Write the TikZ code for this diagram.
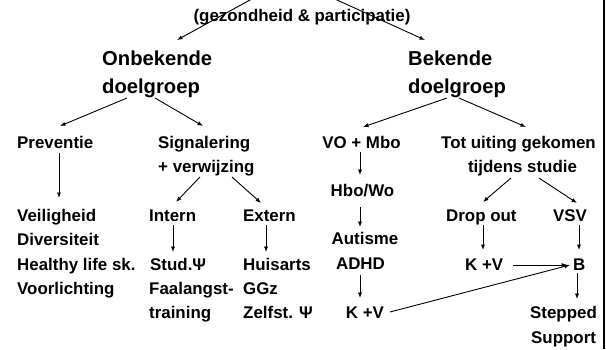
\documentclass[tikz,border=0pt]{standalone}
\usepackage{fontspec}
\setmainfont{Liberation Sans}
\usetikzlibrary{arrows.meta}
\begin{document}
\begin{tikzpicture}[x=1pt,y=-1pt,
  sm/.style={inner sep=0pt,anchor=base west,font=\fontsize{16.9}{20}\selectfont\bfseries},
  smc/.style={sm,anchor=base},
  lg/.style={inner sep=0pt,anchor=base west,font=\fontsize{20.2}{24}\selectfont\bfseries},
  arr/.style={draw=black,line width=0.9pt,-{Latex[length=5.5pt,width=4.2pt]}}]
\useasboundingbox (0,0) rectangle (606,349);
\fill[white] (0,0) rectangle (606,349);
% nodes
\node[smc] (top) at (302,21) {(gezondheid \& participatie)};
\node[lg] (onb1) at (102,65) {Onbekende};
\node[lg] (onb2) at (102,93) {doelgroep};
\node[lg] (bek1) at (408,65) {Bekende};
\node[lg] (bek2) at (408,93) {doelgroep};
\node[sm] (prev) at (17,148) {Preventie};
\node[sm] (sig1) at (158,148) {Signalering};
\node[sm] (sig2) at (158,172) {+ verwijzing};
\node[smc] (vo) at (361.5,148) {VO + Mbo};
\node[smc] (tot1) at (518.5,148) {Tot uiting gekomen};
\node[smc] (tot2) at (522.5,172) {tijdens studie};
\node[sm] (vei) at (17,221) {Veiligheid};
\node[sm] (div) at (17,245) {Diversiteit};
\node[sm] (hls) at (17,270) {Healthy life sk.};
\node[sm] (voo) at (17,294) {Voorlichting};
\node[sm] (int) at (149,221) {Intern};
\node[sm] (ext) at (243,221) {Extern};
\node[sm] (stud) at (150,270) {Stud.Ψ};
\node[sm] (faal) at (149,294) {Faalangst-};
\node[sm] (trai) at (149,318) {training};
\node[sm] (huis) at (243,270) {Huisarts};
\node[sm] (ggz) at (243,294) {GGz};
\node[sm] (zelf) at (243,318) {Zelfst. Ψ};
\node[smc] (hbo) at (362.5,196) {Hbo/Wo};
\node[smc] (aut) at (365,244) {Autisme};
\node[smc] (adhd) at (360.5,269) {ADHD};
\node[smc] (kvl) at (365,318) {K +V};
\node[sm] (drop) at (446,221) {Drop out};
\node[sm] (vsv) at (553,221) {VSV};
\node[sm] (kvr) at (465,270) {K +V};
\node[sm] (b) at (573,270) {B};
\node[sm] (step) at (530,318) {Stepped};
\node[sm] (supp) at (531,343) {Support};
% free ends above the picture
\coordinate (srcL) at (268.25,-10);
\coordinate (srcR) at (315,-10);
% connectors
\draw[arr] (srcL) -- ([shift={(75,-25)}]onb1.base west);
\draw[arr] (srcR) -- ([shift={(17,-25)}]bek1.base west);
\draw[arr] ([shift={(25,5)}]onb2.base west) -- ([shift={(43,-22)}]prev.base west);
\draw[arr] ([shift={(53,5)}]onb2.base west) -- ([shift={(45,-22)}]sig1.base west);
\draw[arr] ([shift={(39,5)}]bek2.base west) -- ([shift={(1.5,-21)}]vo.base);
\draw[arr] ([shift={(51,5)}]bek2.base west) -- ([shift={(7.5,-21)}]tot1.base);
\draw[arr] ([shift={(42,5)}]prev.base west) -- ([shift={(42,-23)}]vei.base west);
\draw[arr] ([shift={(42,5)}]sig2.base west) -- ([shift={(27,-19)}]int.base west);
\draw[arr] ([shift={(74,5)}]sig2.base west) -- ([shift={(18,-18)}]ext.base west);
\draw[arr] ([shift={(24,4)}]int.base west) -- ([shift={(23,-18)}]stud.base west);
\draw[arr] ([shift={(23,4)}]ext.base west) -- ([shift={(23,-18)}]huis.base west);
\draw[arr] ([shift={(-1.5,4)}]vo.base) -- ([shift={(-2.5,-21)}]hbo.base);
\draw[arr] ([shift={(-2.5,11)}]hbo.base) -- ([shift={(-5,-17)}]aut.base);
\draw[arr] ([shift={(-0.5,6)}]adhd.base) -- ([shift={(-5,-20)}]kvl.base);
\draw[arr] ([shift={(-11.5,6)}]tot2.base) -- ([shift={(37,-19)}]drop.base west);
\draw[arr] ([shift={(16.5,6)}]tot2.base) -- ([shift={(24,-18)}]vsv.base west);
\draw[arr] ([shift={(37,4)}]drop.base west) -- ([shift={(18,-20)}]kvr.base west);
\draw[arr] ([shift={(26,4)}]vsv.base west) -- ([shift={(6,-20)}]b.base west);
\draw[arr] ([shift={(48,-5)}]kvr.base west) -- ([shift={(-6,-5)}]b.base west);
\draw[arr] ([shift={(25,-6)}]kvl.base) -- ([shift={(-3,-5)}]b.base west);
\draw[arr] ([shift={(4,3)}]b.base west) -- ([shift={(47,-19)}]step.base west);
% right border
\draw[line width=2.4pt] (604,0) -- (604,349);
\end{tikzpicture}
\end{document}
